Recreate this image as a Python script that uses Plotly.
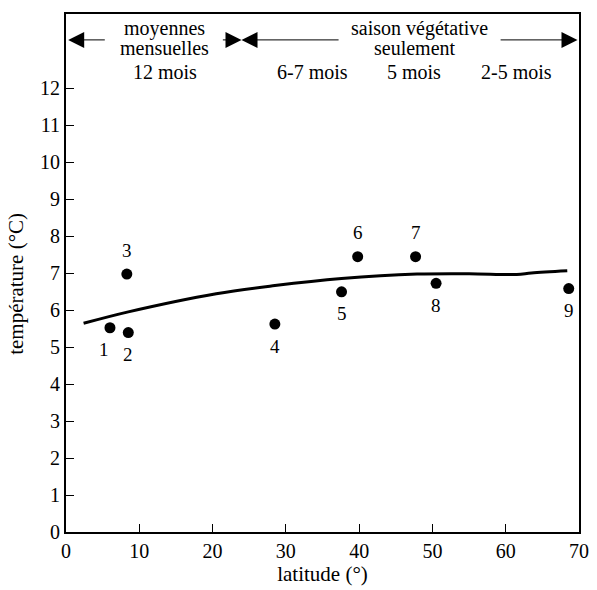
import plotly.graph_objects as go

# Data
lat = [6.0, 8.5, 8.3, 28.5, 37.6, 39.8, 47.7, 50.5, 68.6]
temp = [5.52, 5.39, 6.97, 5.62, 6.49, 7.44, 7.44, 6.72, 6.58]
labels = ["1", "2", "3", "4", "5", "6", "7", "8", "9"]
label_side = ["below", "below", "above", "below", "below", "above", "above", "below", "below"]
label_dx = [-6, 0, 0, 0, 0, 0, 0, 0, 0]

curve_lat = [2.4, 8.5, 20.5, 28.5, 37.6, 47.9, 55.0, 61.5, 63.5, 68.4]
curve_temp = [5.64, 5.95, 6.44, 6.66, 6.85, 6.97, 6.98, 6.96, 7.0, 7.06]

x_ticks = [0, 10, 20, 30, 40, 50, 60, 70]
y_ticks = list(range(0, 13))

FONT = "Times New Roman, Liberation Serif, DejaVu Serif, serif"

fig = go.Figure()
fig.add_trace(go.Scatter(x=curve_lat, y=curve_temp, mode="lines",
                         line=dict(color="black", width=3, shape="spline"),
                         hoverinfo="skip", showlegend=False))
fig.add_trace(go.Scatter(x=lat, y=temp, mode="markers",
                         marker=dict(color="black", size=11),
                         showlegend=False))

for xv, yv, t, s, dx in zip(lat, temp, labels, label_side, label_dx):
    fig.add_annotation(x=xv, y=yv, text=t, showarrow=False,
                       yshift=(-22 if s == "below" else 24), xshift=dx,
                       font=dict(family=FONT, size=19, color="black"))

# header text
header = [
    ("moyennes", 13.5, 13.62),
    ("mensuelles", 13.5, 13.08),
    ("12 mois", 13.5, 12.42),
    ("saison végétative", 48.2, 13.62),
    ("seulement", 47.6, 13.08),
    ("6-7 mois", 33.7, 12.42),
    ("5 mois", 47.5, 12.42),
    ("2-5 mois", 61.5, 12.42),
]
for t, xv, yv in header:
    fig.add_annotation(x=xv, y=yv, text=t, showarrow=False,
                       font=dict(family=FONT, size=20, color="black"))

# arrows (tail -> tip)
arrows = [(5.5, 0.3), (21.2, 23.95), (37.4, 23.95), (59.1, 69.8)]
ay_val = 13.3
for tail, tip in arrows:
    fig.add_annotation(x=tip, y=ay_val, ax=tail, ay=ay_val,
                       xref="x", yref="y", axref="x", ayref="y",
                       text="", showarrow=True, arrowhead=2,
                       arrowsize=3.2, arrowwidth=1, arrowcolor="black")

# y axis title
fig.add_annotation(xref="paper", yref="paper", x=-0.0975, y=0.479,
                   xanchor="center", yanchor="middle", textangle=-90,
                   text="température (°C)", showarrow=False,
                   font=dict(family=FONT, size=21, color="black"))

fig.update_layout(
    width=597, height=590,
    margin=dict(l=66, r=18, t=14, b=58, autoexpand=False),
    paper_bgcolor="white", plot_bgcolor="white",
    font=dict(family=FONT, size=20, color="black"),
)
fig.update_xaxes(range=[0, 70], tickvals=x_ticks, ticks="inside", ticklen=8, tickwidth=1,
                 tickcolor="black", showline=True, linecolor="black", linewidth=2,
                 mirror=True, showgrid=False, zeroline=False, automargin=False,
                 tickfont=dict(family=FONT, size=20),
                 title=dict(text="latitude (°)", font=dict(family=FONT, size=21), standoff=4))
fig.update_yaxes(range=[0, 14], tickvals=y_ticks, ticks="inside", ticklen=8, tickwidth=1,
                 tickcolor="black", showline=True, linecolor="black", linewidth=2,
                 mirror=True, showgrid=False, zeroline=False, automargin=False,
                 tickfont=dict(family=FONT, size=20))

fig.write_html("out.html", config={"displayModeBar": False},
               post_script="document.body.style.margin='0';")
